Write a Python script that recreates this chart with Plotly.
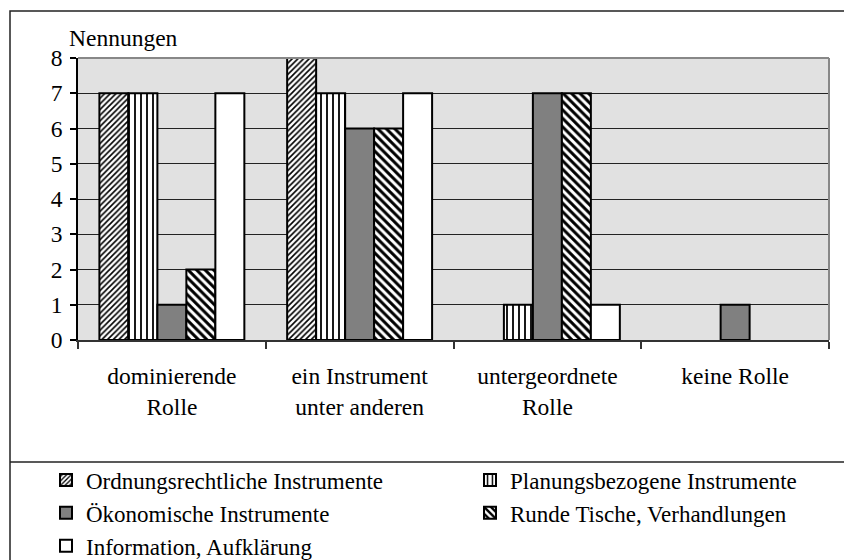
import plotly.graph_objects as go

categories = ["dominierende<br>Rolle", "ein Instrument<br>unter anderen",
              "untergeordnete<br>Rolle", "keine Rolle"]
series_names = ["Ordnungsrechtliche Instrumente", "Planungsbezogene Instrumente",
                "Ökonomische Instrumente", "Runde Tische, Verhandlungen",
                "Information, Aufklärung"]
ordnung = [7, 8, 0, 0]
planung = [7, 7, 1, 0]
oekonom = [1, 6, 7, 1]
runde = [2, 6, 7, 0]
information = [7, 7, 1, 0]
y_ticks = [0, 1, 2, 3, 4, 5, 6, 7, 8]

FONT = "Liberation Serif, Times New Roman, serif"
FS = 23.5
LFS = 23

# The page body adds an 8px margin, so the figure is drawn 8px smaller
# and all pixel positions below are in figure coordinates (window - 8).
W, H = 844, 552
L, T, GW, GH = 70, 50, 774, 282
PLOT_W = 751


def px(xp):
    return (xp - L) / GW


def py(yp):
    return (T + GH - yp) / GH


styles = [
    dict(color="white", pattern=dict(shape="/", size=4, solidity=0.4, fgcolor="black", bgcolor="white")),
    dict(color="white", pattern=dict(shape="|", size=6, solidity=0.3, fgcolor="black", bgcolor="white")),
    dict(color="#808080"),
    dict(color="white", pattern=dict(shape="\\", size=6, solidity=0.5, fgcolor="black", bgcolor="white")),
    dict(color="white"),
]
values = [ordnung, planung, oekonom, runde, information]

fig = go.Figure()
for i, (name, vals, st) in enumerate(zip(series_names, values, styles)):
    line_w = [2 if v > 0 else 0 for v in vals]
    marker = dict(line=dict(color="black", width=line_w), **st)
    kw = {}
    if i in (1, 3):
        kw["legendwidth"] = 320
    fig.add_trace(go.Bar(x=categories, y=vals, name=name, marker=marker, **kw))

fig.update_layout(
    template="none",
    width=W, height=H,
    margin=dict(l=L, r=W - L - GW, t=T, b=H - T - GH, autoexpand=False),
    paper_bgcolor="white",
    plot_bgcolor="#e1e1e1",
    barmode="group",
    bargap=0.228,
    bargroupgap=0,
    font=dict(family=FONT, size=FS, color="black"),
    showlegend=True,
    legend=dict(
        orientation="h",
        x=px(38), xanchor="left",
        y=py(450.5), yanchor="top",
        entrywidth=379, entrywidthmode="pixels",
        traceorder="normal",
        font=dict(family=FONT, size=LFS, color="black"),
        bgcolor="rgba(0,0,0,0)",
        borderwidth=0,
    ),
    xaxis=dict(
        type="category",
        domain=[0, PLOT_W / GW],
        tickson="boundaries",
        ticks="outside", ticklen=7, tickcolor="#333", tickwidth=1.5,
        ticklabelstandoff=14,
        showline=True, linecolor="#333", linewidth=1.5,
        showgrid=False, zeroline=False,
        tickfont=dict(family=FONT, size=FS, color="black"),
        automargin=False,
    ),
    yaxis=dict(
        range=[0, 8],
        tickmode="array", tickvals=y_ticks,
        ticks="outside", ticklen=6, tickcolor="black", tickwidth=1.5,
        ticklabelstandoff=3,
        showline=True, linecolor="black", linewidth=1.5,
        showgrid=True, gridcolor="#222", gridwidth=1,
        zeroline=False,
        tickfont=dict(family=FONT, size=FS, color="black"),
        automargin=False,
    ),
    annotations=[
        dict(text="Nennungen", xref="paper", yref="paper", x=px(59), y=py(30),
             xanchor="left", yanchor="middle", showarrow=False,
             font=dict(family=FONT, size=FS, color="black")),
    ],
    shapes=[
        # outer chart border
        dict(type="rect", xref="paper", yref="paper", x0=px(2), x1=px(870),
             y0=py(580), y1=py(3), line=dict(color="#222", width=1.5),
             fillcolor="rgba(0,0,0,0)", layer="above"),
        # separator above legend
        dict(type="line", xref="paper", yref="paper", x0=px(2), x1=px(870),
             y0=py(454), y1=py(454), line=dict(color="#222", width=1.5), layer="above"),
        # plot area top and right border
        dict(type="line", xref="paper", yref="paper", x0=0, x1=PLOT_W / GW,
             y0=1, y1=1, line=dict(color="#888", width=2), layer="above"),
        dict(type="line", xref="paper", yref="paper", x0=PLOT_W / GW, x1=PLOT_W / GW,
             y0=0, y1=1, line=dict(color="#888", width=2), layer="above"),
    ],
)

fig.write_html("out.html")
